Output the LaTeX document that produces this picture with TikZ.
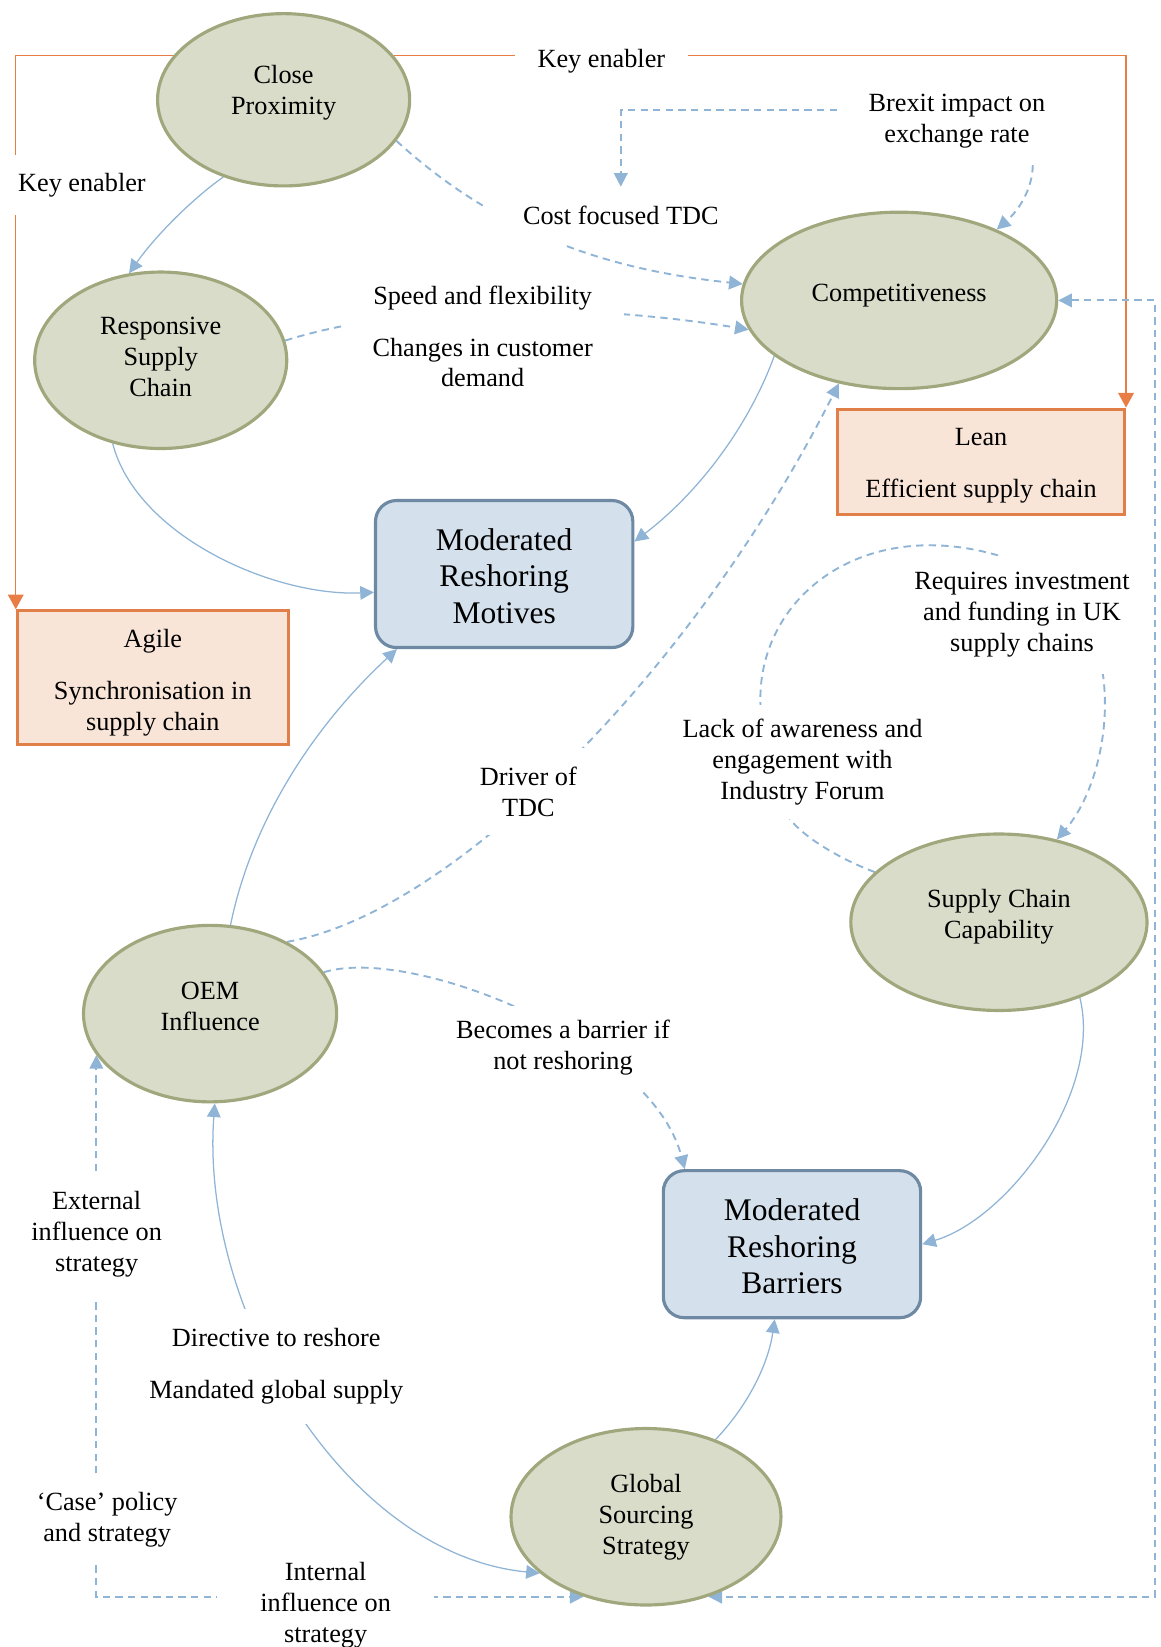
\documentclass[tikz,border=0pt]{standalone}
\usepackage{fontspec}
\setmainfont{Liberation Serif}
\usetikzlibrary{shapes.geometric,arrows.meta}

\definecolor{olivefill}{RGB}{217,220,201}
\definecolor{olivedraw}{RGB}{160,167,124}
\definecolor{boxfill}{RGB}{212,225,237}
\definecolor{boxdraw}{RGB}{110,137,163}
\definecolor{peach}{RGB}{249,229,216}
\definecolor{rust}{RGB}{224,128,72}
\definecolor{linkblue}{RGB}{143,180,214}
\definecolor{enabler}{RGB}{232,125,70}

\pgfdeclarelayer{links}
\pgfsetlayers{links,main}

\begin{document}
\begin{tikzpicture}[
  x=1pt, y=-1pt,
  font=\fontsize{25}{29.5}\selectfont,
  factor/.style={ellipse, draw=olivedraw, fill=olivefill, line width=3pt, inner sep=0pt},
  moderator/.style={rectangle, rounded corners=20pt, draw=boxdraw, fill=boxfill,
    line width=3pt, minimum width=245pt, minimum height=140pt},
  approach/.style={rectangle, draw=rust, fill=peach, line width=3pt, inner sep=0pt},
  caption/.style={align=center, inner sep=0pt},
  bigcaption/.style={caption, font=\fontsize{30}{35}\selectfont},
  note/.style={fill=white, align=center, inner sep=0pt},
  bluetip/.tip={Triangle[length=13pt,width=13pt]},
  solidlink/.style={draw=linkblue, line width=1.2pt, -bluetip},
  solidboth/.style={draw=linkblue, line width=1.2pt, bluetip-bluetip},
  dashlink/.style={draw=linkblue, line width=1.8pt, dash pattern=on 7pt off 5pt, -bluetip},
  dashboth/.style={draw=linkblue, line width=1.8pt, dash pattern=on 7pt off 5pt, bluetip-bluetip},
  enablerlink/.style={draw=enabler, line width=1.4pt, -{Triangle[length=14pt,width=15pt]}}
]
\useasboundingbox (0,0) rectangle (1105,1568);

% factors
\node[factor, minimum width=240pt, minimum height=164pt] (cp)   at (270,95)   {};
\node[factor, minimum width=240pt, minimum height=168pt] (rsc)  at (153,343)  {};
\node[factor, minimum width=300pt, minimum height=168pt] (comp) at (856,286)  {};
\node[factor, minimum width=282pt, minimum height=168pt] (scc)  at (951,878)  {};
\node[factor, minimum width=241pt, minimum height=168pt] (oem)  at (200,965)  {};
\node[factor, minimum width=257pt, minimum height=168pt] (gss)  at (615,1444) {};

\node[caption] (cpt)   at (270,88.5) {Close\\Proximity};
\node[caption] (rsct)  at (153,340)  {Responsive\\Supply\\Chain};
\node[caption] (compt) at (856,281)  {Competitiveness};
\node[caption] (scct)  at (951,873)  {Supply Chain\\Capability};
\node[caption] (oemt)  at (200,958)  {OEM\\Influence};
\node[caption] (gsst)  at (615,1444) {Global\\Sourcing\\Strategy};

% moderated outcomes
\node[moderator] (mot) at (480,546.5)  {};
\node[moderator] (bar) at (754,1184.5) {};
\node[bigcaption] (mott) at (480,548.5)  {Moderated\\Reshoring\\Motives};
\node[bigcaption] (bart) at (754,1186.5) {Moderated\\Reshoring\\Barriers};

% supply chain approaches
\node[approach, minimum width=273pt, minimum height=100pt] (lean)  at (934,439.5) {};
\node[approach, minimum width=258pt, minimum height=127pt] (agile) at (145.5,645) {};
\node[caption] (leant)  at (934,443.5) {Lean\\[19.5pt]Efficient supply chain};
\node[caption] (agilet) at (145.5,650) {Agile\\[19.5pt]Synchronisation in\\supply chain};

% link labels
\node[note, minimum width=165pt, minimum height=40pt]  (ke1)      at (572.5,58)   {Key enabler};
\node[note, minimum width=136pt, minimum height=57pt]  (ke2)      at (78,176)     {Key enabler};
\node[note, minimum width=228pt, minimum height=83pt]  (brexit)   at (911,115.5)  {Brexit impact on\\exchange rate};
\node[note, minimum width=262pt, minimum height=55pt]  (cost)     at (591,205.5)  {Cost focused TDC};
\node[note, minimum width=269pt, minimum height=112pt] (speed)    at (459.5,320.5)
  {Speed and flexibility\\[19.5pt]Changes in customer\\demand};
\node[note, minimum width=227pt, minimum height=112pt] (invest)   at (973,585.5)
  {Requires investment\\and funding in UK\\supply chains};
\node[note, minimum width=248pt, minimum height=108pt] (aware)    at (764,725.5)
  {Lack of awareness and\\engagement with\\Industry Forum};
\node[note, minimum width=120pt, minimum height=83pt]  (driver)   at (503,753.5)  {Driver of\\TDC};
\node[note, minimum width=222pt, minimum height=80pt]  (barrier)  at (536,997.5)  {Becomes a barrier if\\not reshoring};
\node[note, minimum width=135pt, minimum height=121pt] (external) at (92,1175)    {External\\influence on\\strategy};
\node[note, minimum width=260pt, minimum height=110pt] (mandate)  at (263,1301)
  {Directive to reshore\\[20pt]Mandated global supply};
\node[note, minimum width=150pt, minimum height=87pt]  (policy)   at (102,1446.5) {‘Case’ policy\\and strategy};
\node[note, minimum width=206pt, minimum height=100pt] (internal) at (310,1528)   {Internal\\influence on\\strategy};

\coordinate (rail) at (1100,0);

\begin{pgfonlayer}{links}
  % key enablers of close proximity
  \draw[enablerlink] (cp.158) -| (agile.north west);
  \draw[enablerlink] (cp.22) -| (lean.north east);

  % direct influences
  \draw[solidlink] (cp.232) .. controls (185,188) and (150,222) .. (rsc.110);
  \draw[solidlink] (rsc.240) .. controls (130,510) and (260,568) .. (mot.188);
  \draw[solidlink] (comp.204) .. controls (715,400) and (670,465) .. (mot.14);
  \draw[solidlink] (oem.77) .. controls (240,780) and (300,690) .. (mot.215);
  \draw[solidlink] (scc.-43) .. controls (1050,1040) and (960,1160) .. (bar.east);
  \draw[solidlink] (gss.48) .. controls (715,1335) and (732,1295) .. (bar.257);
  \draw[solidboth] (oem.-87) .. controls (190,1250) and (330,1480) .. (gss.208);

  % moderating relations
  \draw[dashlink] (cp.-20) .. controls (480,228) and (590,258) .. (comp.174);
  \draw[dashlink] ([yshift=10.5pt]brexit.west) -| (cost.north);
  \draw[dashlink] (brexit.-30) .. controls (983,180) and (970,200) .. (comp.36);
  \draw[dashlink] (rsc.9) .. controls (400,284) and (580,292) .. (comp.191);
  \draw[dashlink] (oem.43) .. controls (430,870) and (660,640) .. (comp.234);
  \draw[dashlink] (oem.20) .. controls (390,900) and (620,990) .. (bar.145);
  \draw[dashlink] (scc.158) .. controls (800,818) and (765,797) .. ([xshift=-12pt]aware.south)
    -- ([xshift=-40pt]aware.north) .. controls (720,570) and (820,490) .. ([xshift=-21pt]invest.north)
    -- ([xshift=77pt]invest.south) .. controls (1058,700) and (1040,760) .. (scc.55);
  \draw[dashboth] (comp.east) -| (rail |- gss.-52) -- (gss.-52);
  \draw[dashlink] (policy.north -| oem.200) -- (oem.200);
  \draw[dashlink] (policy.south -| oem.200) |- (gss.-128);
\end{pgfonlayer}
\end{tikzpicture}
\end{document}
